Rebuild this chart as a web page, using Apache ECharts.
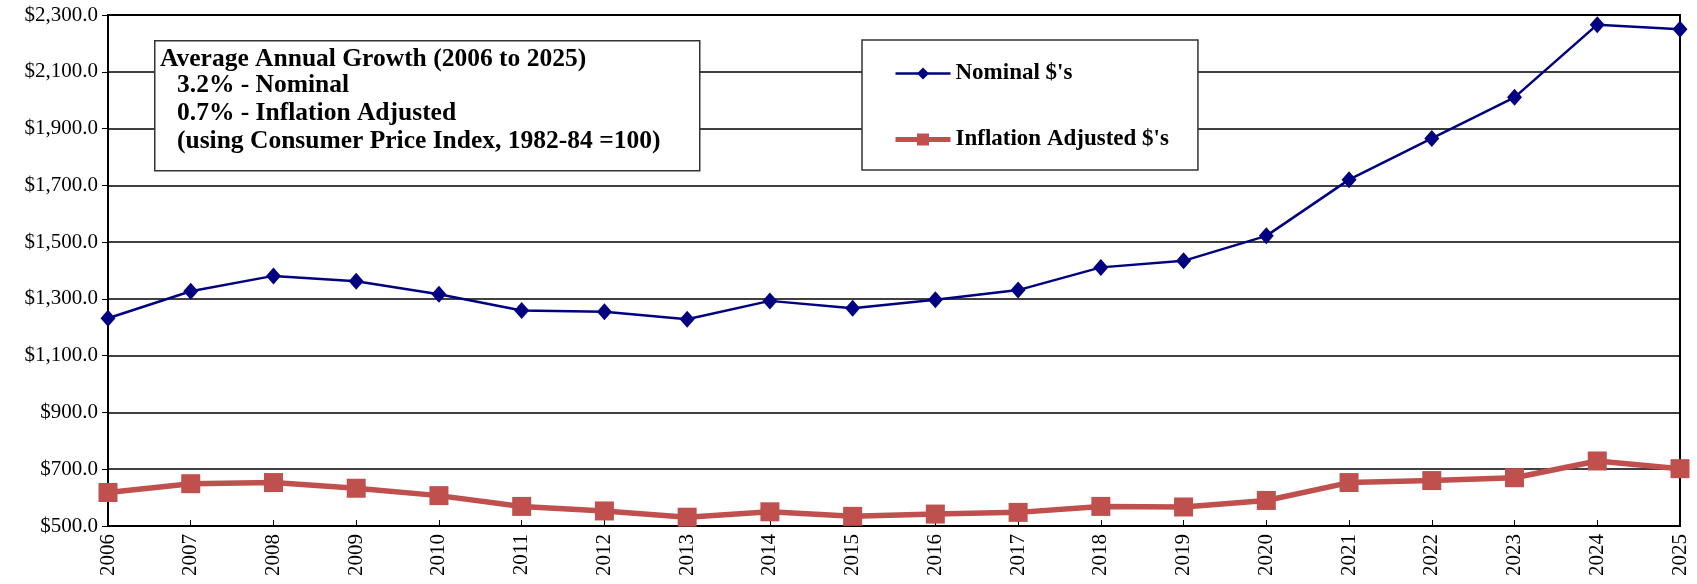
<!DOCTYPE html>
<html>
<head>
<meta charset="utf-8">
<script src="https://cdn.jsdelivr.net/npm/echarts@6/dist/echarts.min.js"></script>
<style>
  html, body { margin: 0; padding: 0; background: #fff; }
  #main { width: 1697px; height: 584px; }
</style>
</head>
<body>
<div id="main"></div>
<script>
  const years = ['2006', '2007', '2008', '2009', '2010', '2011', '2012', '2013', '2014', '2015',
    '2016', '2017', '2018', '2019', '2020', '2021', '2022', '2023', '2024', '2025']
  const nominal = [1232, 1327, 1381, 1362, 1316, 1259, 1255, 1228, 1293, 1267,
    1297, 1331, 1411, 1434, 1522, 1720, 1865, 2010, 2266, 2250]
  const inflationAdjusted = [618, 649, 653, 633, 607, 569, 553, 531, 550, 534,
    542, 548, 569, 567, 590, 653, 660, 670, 729, 702]
  const noteLines = [
    'Average Annual Growth (2006 to 2025)',
    '3.2% - Nominal',
    '0.7% - Inflation Adjusted',
    '(using Consumer Price Index, 1982-84 =100)'
  ]

  const serif = "'Liberation Serif', 'Times New Roman', serif"
  let myChart = echarts.init(document.getElementById('main'))

  // note box in the upper left of the plot
  let noteTexts = noteLines.map(function (line, i) {
    return {
      type: 'text',
      x: i === 0 ? 160 : 177,
      y: [59, 85, 113, 141][i],
      z: 11,
      style: {
        text: line,
        font: 'bold 25.5px ' + serif,
        fill: '#000',
        align: 'left',
        verticalAlign: 'middle'
      }
    }
  })

  let option = {
    animation: false,
    backgroundColor: '#fff',
    grid: {
      left: 108,
      right: 17,
      top: 15,
      bottom: 58,
      show: true,
      borderColor: '#000',
      borderWidth: 2
    },
    legend: {
      left: 862,
      top: 40,
      orient: 'vertical',
      padding: [22, 29, 19, 31],
      itemGap: 43,
      itemWidth: 55,
      itemHeight: 15,
      borderColor: '#333',
      borderWidth: 1.5,
      backgroundColor: '#fff',
      data: [
        { name: "Nominal $'s", lineStyle: { width: 2.5 } },
        { name: "Inflation Adjusted $'s", lineStyle: { width: 5 } }
      ],
      textStyle: {
        fontFamily: serif,
        fontWeight: 'bold',
        fontSize: 23,
        color: '#000'
      }
    },
    xAxis: {
      type: 'category',
      data: years,
      boundaryGap: false,
      axisLine: { lineStyle: { color: '#000', width: 2 } },
      axisTick: { inside: true, length: 6, lineStyle: { color: '#000' } },
      axisLabel: {
        rotate: 90,
        margin: 8,
        fontFamily: serif,
        fontSize: 21,
        color: '#000'
      },
      splitLine: { show: false }
    },
    yAxis: {
      type: 'value',
      min: 500,
      max: 2300,
      interval: 200,
      axisLine: { show: true, lineStyle: { color: '#000', width: 2 } },
      axisTick: { show: true, length: 6, lineStyle: { color: '#000' } },
      axisLabel: {
        margin: 10,
        fontFamily: serif,
        fontSize: 21,
        color: '#000',
        formatter: function (v) {
          return '$' + v.toLocaleString('en-US', { minimumFractionDigits: 1, maximumFractionDigits: 1 })
        }
      },
      splitLine: { lineStyle: { color: '#000', width: 1.5 } }
    },
    series: [
      {
        name: "Nominal $'s",
        type: 'line',
        data: nominal,
        symbol: 'diamond',
        symbolSize: [15, 17],
        color: '#000080',
        lineStyle: { width: 2.5, color: '#000080' },
        itemStyle: { color: '#000080' }
      },
      {
        name: "Inflation Adjusted $'s",
        type: 'line',
        data: inflationAdjusted,
        symbol: 'rect',
        symbolSize: 19,
        color: '#C0504D',
        lineStyle: { width: 5.5, color: '#C0504D' },
        itemStyle: { color: '#C0504D' }
      }
    ],
    graphic: [
      {
        type: 'rect',
        left: 154,
        top: 40,
        shape: { width: 545, height: 130 },
        style: { fill: '#fff', stroke: '#333', lineWidth: 1.5 },
        z: 10
      }
    ].concat(noteTexts)
  }
  myChart.setOption(option)
</script>
</body>
</html>
